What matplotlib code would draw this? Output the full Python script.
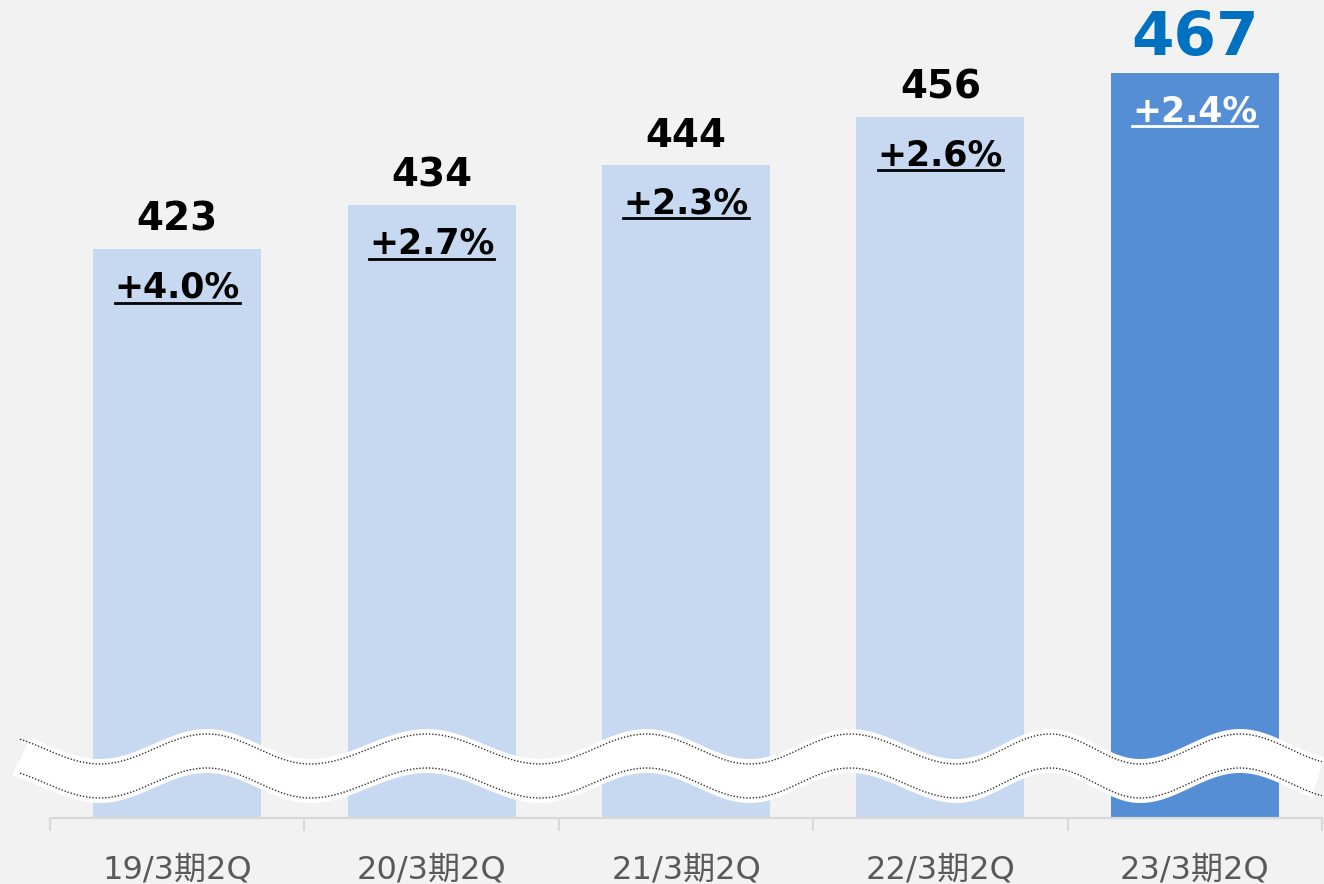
import numpy as np
import matplotlib.pyplot as plt
from matplotlib.lines import Line2D

categories = ['19/3期2Q', '20/3期2Q', '21/3期2Q', '22/3期2Q', '23/3期2Q']
values = [423, 434, 444, 456, 467]
growth = ['+4.0%', '+2.7%', '+2.3%', '+2.6%', '+2.4%']

BG = '#F2F2F2'
LIGHT = '#C6D9F1'
DARK = '#558ED5'
W, H = 1324, 884

fig = plt.figure(figsize=(W / 100, H / 100), dpi=100, facecolor=BG)
ax = fig.add_axes([50 / W, (H - 818) / H, (1322 - 50) / W, 818 / H])
ax.set_facecolor(BG)

x = np.arange(len(values))
colors = [LIGHT] * (len(values) - 1) + [DARK]
ax.bar(x, values, width=0.66, color=colors, zorder=2)
ax.set_xlim(-0.5, len(values) - 0.5)
ax.set_ylim(280.8, 485.2)

for s in ['left', 'top', 'right']:
    ax.spines[s].set_visible(False)
ax.spines['bottom'].set_color('#D9D9D9')
ax.spines['bottom'].set_linewidth(1.6)
ax.set_yticks([])
ax.set_xticks(x)
ax.set_xticklabels(categories, family=['DejaVu Sans', 'Noto Sans CJK JP'],
                   fontsize=23, color='#595959')
ax.tick_params(axis='x', which='major', length=0, pad=26)
ax.set_xticks(np.arange(-0.5, len(values)), minor=True)
ax.tick_params(axis='x', which='minor', length=9, width=1.6, color='#D9D9D9')

# value labels and growth labels
pct_texts = []
for i, (v, g) in enumerate(zip(values, growth)):
    last = i == len(values) - 1
    ax.annotate(str(v), (i, v), xytext=(0, 13), textcoords='offset points',
                ha='center', va='baseline', family='DejaVu Sans', weight='bold',
                fontsize=44 if last else 28,
                color='#0070C0' if last else 'black', zorder=5)
    t = ax.annotate(g, (i, v), xytext=(0, -35), textcoords='offset points',
                    ha='center', va='baseline', family='DejaVu Sans', weight='bold',
                    fontsize=25, color='white' if last else 'black', zorder=5)
    pct_texts.append((t, i, v, 'white' if last else 'black'))

# overlay in pixel coordinates for the axis break and underlines
ov = fig.add_axes([0, 0, 1, 1], zorder=10)
ov.set_xlim(0, W)
ov.set_ylim(H, 0)
ov.axis('off')
ov.patch.set_alpha(0)

ext_x = [-10, 100, 207, 310, 427, 540, 647, 750, 850, 957, 1050, 1140, 1240, 1340]
ext_y = [751 if k % 2 == 0 else 781 for k in range(len(ext_x))]


def center(xs):
    out = np.empty_like(xs)
    for k, xv in enumerate(xs):
        j = np.searchsorted(ext_x, xv) - 1
        j = min(max(j, 0), len(ext_x) - 2)
        t = (xv - ext_x[j]) / (ext_x[j + 1] - ext_x[j])
        out[k] = ext_y[j] + (ext_y[j + 1] - ext_y[j]) * (1 - np.cos(np.pi * t)) / 2
    return out


xt = np.linspace(30, W, 800)
xb = np.linspace(12, 1312, 800)
poly_x = np.concatenate([xt, xb[::-1]])
poly_y = np.concatenate([center(xt) - 22, (center(xb) + 22)[::-1]])
ov.fill(poly_x, poly_y, color='white', lw=0, zorder=1)

xd = np.linspace(20, 1322, 900)
for off in (-17, 17):
    ov.plot(xd, center(xd) + off, color='#333333', lw=1.0,
            linestyle=(0, (1, 1.3)), zorder=2)

fig.canvas.draw()
renderer = fig.canvas.get_renderer()
inv = ov.transData.inverted()
for t, i, v, c in pct_texts:
    bb = t.get_window_extent(renderer)
    base = ax.transData.transform((i, v))[1] - 35 * 100 / 72
    x0, y0 = inv.transform((bb.x0, base - 5))
    x1, _ = inv.transform((bb.x1, base - 5))
    ov.add_line(Line2D([x0, x1], [y0, y0], color=c, lw=2, zorder=3))

fig.savefig('out.png', dpi=100, facecolor=BG)
